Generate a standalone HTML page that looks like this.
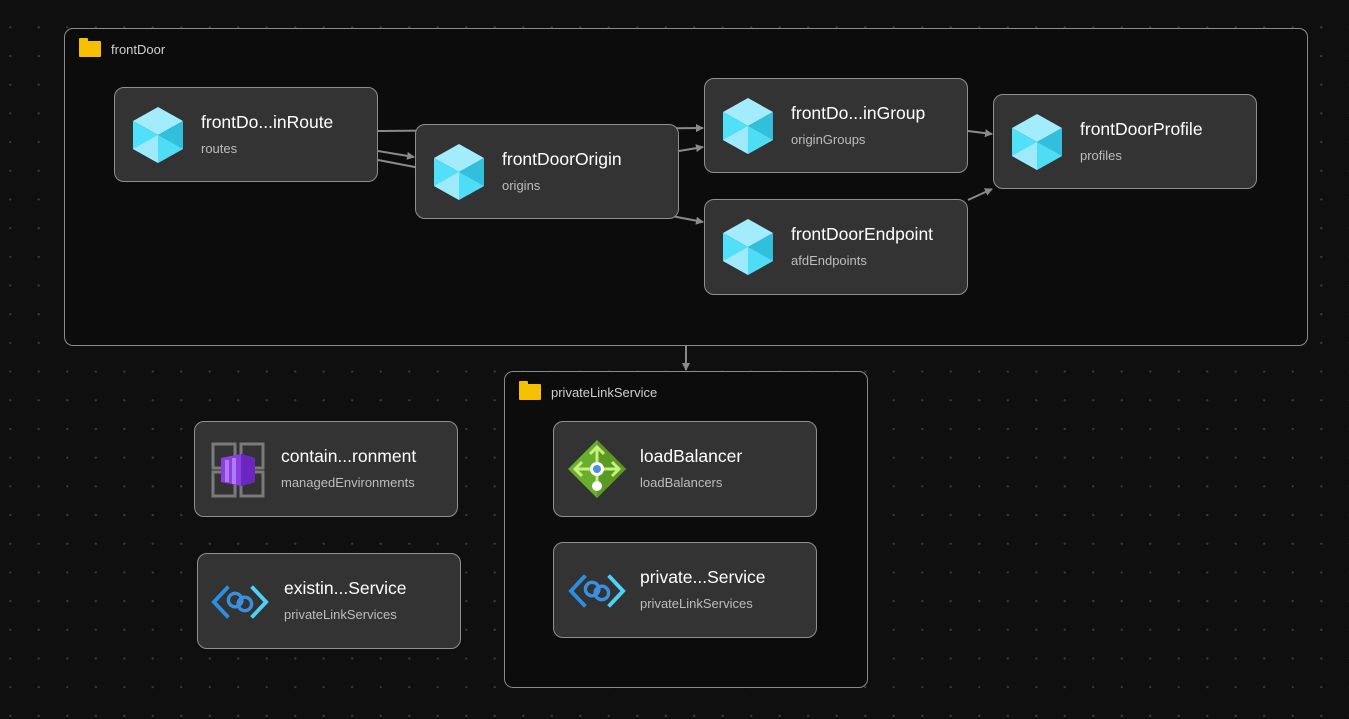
<!DOCTYPE html>
<html><head><meta charset="utf-8"><style>
body{margin:0;width:1349px;height:719px;overflow:hidden;background:#0f0f0f;font-family:"Segoe UI","Liberation Sans",sans-serif;position:relative}
.grid{position:absolute;inset:0;background-image:radial-gradient(circle,#3a3a3a 1px,transparent 1.3px);background-size:28.5px 28.7px;background-position:-4px 13px}
.grp{position:absolute;border:1px solid #8a8a8a;border-radius:9px;background:#0c0c0c}
.gl{position:absolute;left:14px;top:12px;color:#cfcfcf;font-size:13px;display:flex;align-items:center;gap:10px}
.fold{width:22px;height:16px;background:#f5c000;border-radius:1px;position:relative}
.fold:before{content:"";position:absolute;left:0;top:-3px;width:9px;height:4px;background:#f5c000;border-radius:1px 1px 0 0}
.n{position:absolute;width:264px;height:95px;border:1px solid #8f8f8f;border-radius:10px;background:#333;box-sizing:border-box}
.n .t{position:absolute;left:86px;top:24px;color:#fff;font-size:17.5px;white-space:nowrap}
.n .s{position:absolute;left:86px;top:53px;color:#bdbdbd;font-size:13px}
.n svg{position:absolute;left:18px;top:20px}
</style></head><body>
<div class="grid"></div>
<div class="grp" style="left:64px;top:28px;width:1242px;height:316px"><div class="gl"><span class="fold"></span>frontDoor</div></div>
<div class="grp" style="left:504px;top:371px;width:362px;height:315px"><div class="gl"><span class="fold"></span>privateLinkService</div></div>
<svg width="1349" height="719" style="position:absolute;left:0;top:0">
<defs><marker id="a" markerWidth="8" markerHeight="8" refX="7" refY="4" orient="auto" markerUnits="userSpaceOnUse"><path d="M0,0L8,4L0,8z" fill="#8a8a8a"/></marker></defs>
<g stroke="#8a8a8a" stroke-width="2" fill="none">
<line x1="378" y1="131" x2="703" y2="128" marker-end="url(#a)"/>
<line x1="378" y1="151" x2="414" y2="157" marker-end="url(#a)"/>
<line x1="378" y1="160" x2="703" y2="222" marker-end="url(#a)"/>
<line x1="679" y1="151" x2="703" y2="147" marker-end="url(#a)"/>
<line x1="968" y1="131" x2="992" y2="134" marker-end="url(#a)"/>
<line x1="968" y1="200" x2="992" y2="189" marker-end="url(#a)"/>
<line x1="686" y1="345" x2="686" y2="370" marker-end="url(#a)"/>
</g></svg>
<svg width="0" height="0" style="position:absolute"><defs>
<symbol id="cube" viewBox="0 0 50 56"><path d="M25 0L50 14L25 28L0 14z" fill="#a3ecfc"/><path d="M0 14L25 28V56L0 42z" fill="#50e0fa"/><path d="M50 14L25 28V56L50 42z" fill="#32bedd"/><path d="M0 42L25 28L25 56z" fill="#9eeafc"/><path d="M25 28L50 42L25 56z" fill="#4fdcf5"/></symbol>
<symbol id="link" viewBox="0 0 60 40"><path d="M18 4L3 20L18 36" stroke="#2a8fe0" stroke-width="4" fill="none"/><path d="M42 4L57 20L42 36" stroke="#4fd0f5" stroke-width="4" fill="none"/><circle cx="25" cy="18" r="7" stroke="#3b8fe0" stroke-width="3.5" fill="none"/><circle cx="35" cy="22" r="7" stroke="#3b8fe0" stroke-width="3.5" fill="none"/></symbol>
</defs></svg>
<div class="n" style="left:114px;top:87px"><svg width="50" height="56" style="top:19px"><use href="#cube"/></svg><div class="t">frontDo...inRoute</div><div class="s">routes</div></div>
<div class="n" style="left:415px;top:124px"><svg width="50" height="56" style="top:19px"><use href="#cube"/></svg><div class="t">frontDoorOrigin</div><div class="s">origins</div></div>
<div class="n" style="left:704px;top:78px"><svg width="50" height="56" style="top:19px"><use href="#cube"/></svg><div class="t">frontDo...inGroup</div><div class="s">originGroups</div></div>
<div class="n" style="left:704px;top:199px;height:96px"><svg width="50" height="56" style="top:19px"><use href="#cube"/></svg><div class="t">frontDoorEndpoint</div><div class="s">afdEndpoints</div></div>
<div class="n" style="left:993px;top:94px"><svg width="50" height="56" style="top:19px"><use href="#cube"/></svg><div class="t">frontDoorProfile</div><div class="s">profiles</div></div>
<div class="n" style="left:194px;top:421px;height:96px"><svg width="54" height="56" viewBox="0 0 54 56" style="left:16px"><g fill="none" stroke="#7a7a7a" stroke-width="3"><rect x="2" y="2" width="22" height="24"/><rect x="30" y="2" width="22" height="24"/><rect x="2" y="30" width="22" height="24"/><rect x="30" y="30" width="22" height="24"/></g><path d="M10 16L30 12L44 16V40L30 44L10 40z" fill="#8a3fe0"/><path d="M30 12L44 16V40L30 44z" fill="#6a28c0"/><rect x="14" y="18" width="4" height="22" fill="#b07af0"/><rect x="21" y="16" width="4" height="26" fill="#b07af0"/></svg><div class="t">contain...ronment</div><div class="s">managedEnvironments</div></div>
<div class="n" style="left:197px;top:553px;height:96px"><svg width="58" height="40" style="left:13px;top:28px"><use href="#link"/></svg><div class="t">existin...Service</div><div class="s">privateLinkServices</div></div>
<div class="n" style="left:553px;top:421px;height:96px"><svg width="58" height="58" viewBox="0 0 58 58" style="left:14px;top:18px"><path d="M29 0L58 29L29 58L0 29z" fill="#6aae2e"/><path d="M29 0L58 29L29 58z" fill="#5a9a24"/><g stroke="#c8f07a" stroke-width="3" fill="none"><path d="M29 8V22M22 14L29 7L36 14M8 29H50M14 22L7 29L14 36M44 22L51 29L44 36M29 29V44"/></g><circle cx="29" cy="29" r="7" fill="#fff"/><circle cx="29" cy="29" r="4" fill="#4a90e8"/><circle cx="29" cy="46" r="5" fill="#fff"/></svg><div class="t">loadBalancer</div><div class="s">loadBalancers</div></div>
<div class="n" style="left:553px;top:542px;height:96px"><svg width="58" height="40" style="left:14px;top:28px"><use href="#link"/></svg><div class="t">private...Service</div><div class="s">privateLinkServices</div></div>
</body></html>
